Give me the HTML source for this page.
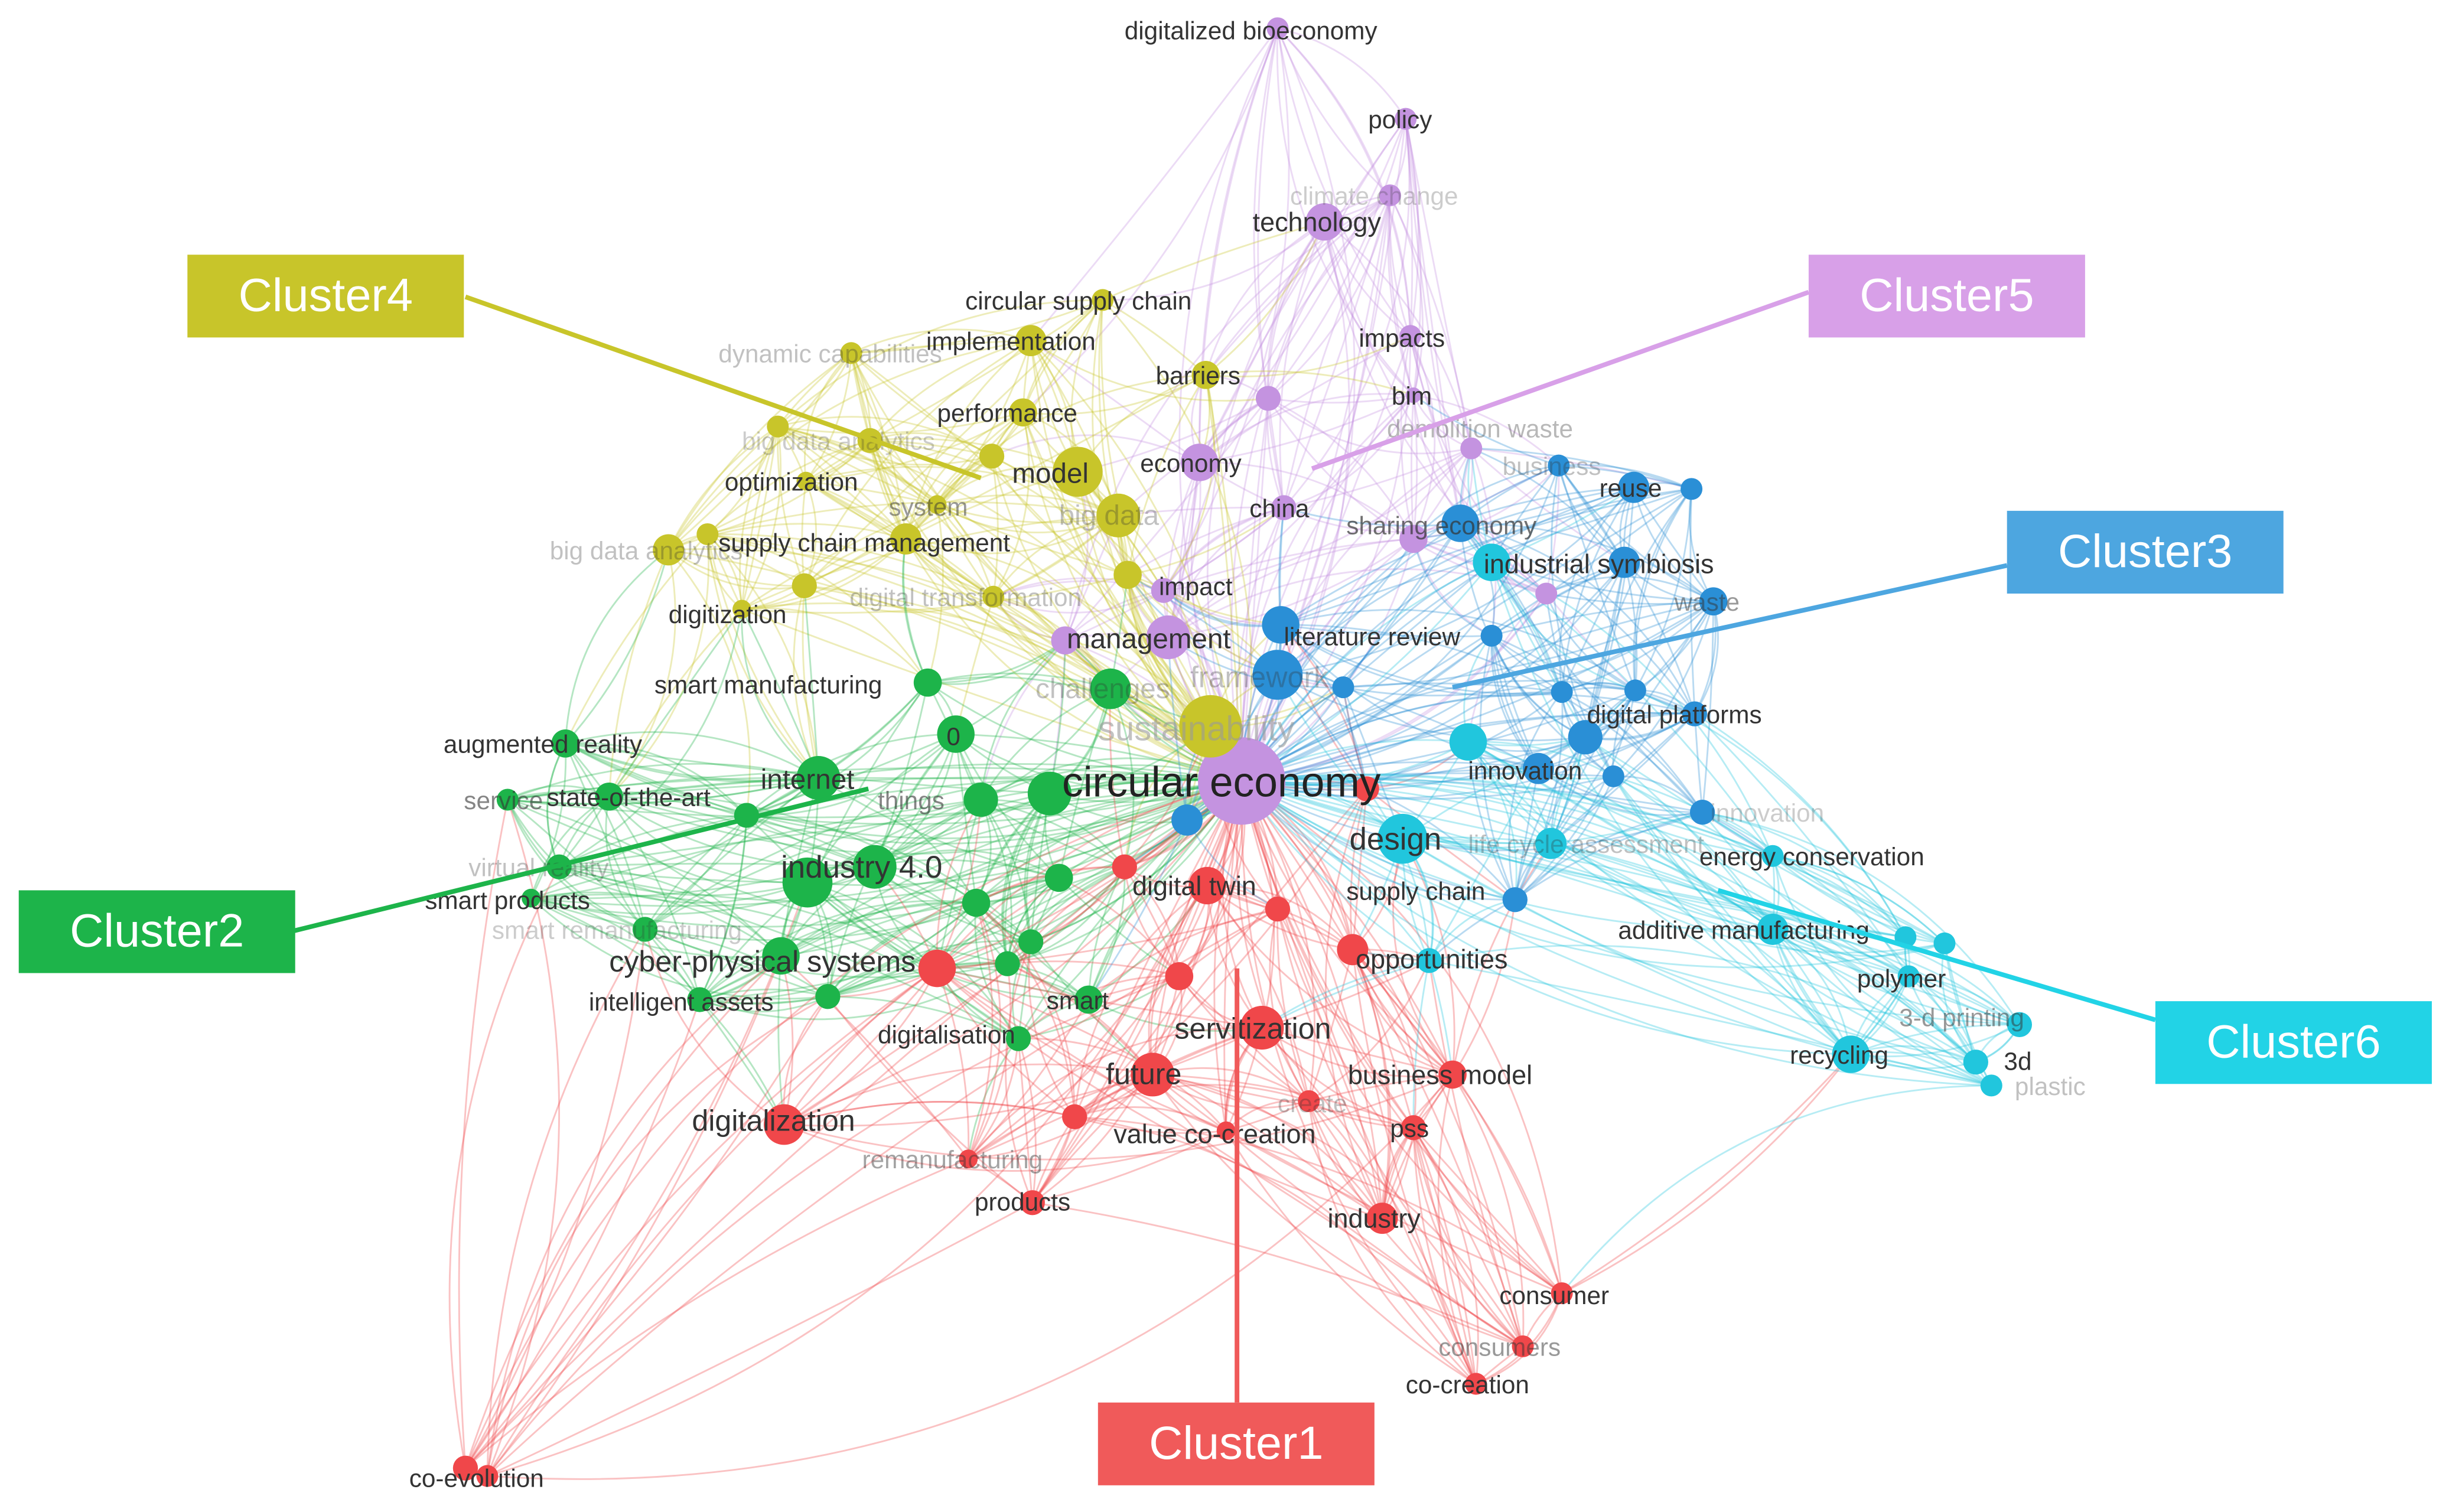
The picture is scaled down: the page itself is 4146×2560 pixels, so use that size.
<!DOCTYPE html>
<html><head><meta charset="utf-8"><style>
html,body{margin:0;padding:0;background:#fff;}
svg{display:block;}
text{font-family:"Liberation Sans",sans-serif;}
</style></head><body>
<svg id="s" width="4146" height="2560" viewBox="0 0 1568 968" xmlns="http://www.w3.org/2000/svg">
<rect width="1568" height="968" fill="#fff"/>
<g id="edges" fill="none"></g>
<g id="nodes"></g>
<g id="labels" font-size="16" fill="#333"></g>
<g id="clusters"></g>
</svg>
<script>
var C={r:"#f0474a",g:"#1db44a",b:"#2a8fd6",y:"#c8c52a",p:"#c493e0",c:"#21c6dd"};
var N=[
["p",818,18,7,"digitalized bioeconomy",720,25,16,1],["p",900,76,7,"policy",876,82,16,1],["p",890,125,7,"climate change",826,131,16,0.25],
["p",848,142,12,"technology",802,148,17,1],["p",903,215,7,"impacts",870,222,16,1],["p",905,253,5,"bim",891,259,16,1],["p",812,255,8,"",0,0,0,1],
["p",942,287,7,"demolition waste",888,280,16,0.35],["p",768,296,12,"economy",730,302,16,1],["p",822,325,8,"china",800,331,16,1],
["p",905,345,9,"sharing economy",862,342,16,0.7],["p",748,408,14,"management",683,415,18,1],["p",745,378,8,"impact",742,381,16,1],
["p",990,380,7,"",0,0,0,1],["p",682,410,9,"",0,0,0,1],
["y",706,192,7,"circular supply chain",618,198,16,1],["y",660,218,10,"implementation",593,224,16,1],["y",545,226,7,"dynamic capabilities",460,232,16,0.3],
["y",772,240,9,"barriers",740,246,16,1],["y",655,264,9,"performance",600,270,16,1],["y",690,302,16,"model",648,309,18,1],
["y",557,282,8,"big data analytics",475,288,16,0.25],["y",498,273,7,"",0,0,0,1],["y",516,308,6,"optimization",464,314,16,1],
["y",600,323,6,"system",569,330,16,0.5],["y",716,330,14,"big data",678,336,18,0.3],["y",580,345,10,"supply chain management",460,353,16,1],
["y",428,352,10,"big data analytics",352,358,16,0.3],["y",515,375,8,"",0,0,0,1],["y",475,390,6,"digitization",428,399,16,1],
["y",636,382,7,"digital transformation",544,388,16,0.3],["y",775,465,20,"",0,0,0,1],["y",635,292,8,"",0,0,0,1],["y",453,342,7,"",0,0,0,1],["y",722,368,9,"",0,0,0,1],
["g",594,437,9,"smart manufacturing",419,444,16,1],["g",612,470,12,"0",606,477,16,1],["g",711,441,13,"challenges",663,447,18,0.3],
["g",362,476,9,"augmented reality",284,482,16,1],["g",524,498,14,"internet",487,505,18,1],["g",390,510,9,"state-of-the-art",350,516,16,1],
["g",325,512,7,"service",297,518,16,0.6],["g",628,512,11,"things",562,518,16,0.6],["g",672,508,14,"",0,0,0,1],["g",517,565,16,"industry 4.0",500,562,20,1],
["g",560,555,14,"",0,0,0,1],["g",358,555,8,"virtual reality",300,561,16,0.3],["g",340,575,6,"smart products",272,582,16,1],
["g",413,595,8,"smart remanufacturing",315,601,16,0.25],["g",500,612,12,"cyber-physical systems",390,622,19,1],["g",448,640,8,"intelligent assets",377,647,16,1],
["g",530,638,8,"",0,0,0,1],["g",697,640,9,"smart",670,646,16,1],["g",625,578,9,"",0,0,0,1],["g",660,603,8,"",0,0,0,1],["g",678,562,9,"",0,0,0,1],
["g",652,665,8,"digitalisation",562,668,16,1],["g",478,522,8,"",0,0,0,1],["g",645,617,8,"",0,0,0,1],
["r",773,567,12,"digital twin",725,573,17,1],["r",720,555,8,"",0,0,0,1],["r",818,582,8,"",0,0,0,1],["r",866,608,10,"opportunities",868,620,17,1],
["r",808,658,14,"servitization",752,665,19,1],["r",738,688,14,"future",708,694,19,1],["r",930,688,9,"business model",863,694,17,1],
["r",838,705,7,"create",818,712,16,0.3],["r",905,722,8,"pss",890,728,16,1],["r",785,724,6,"value co-creation",713,732,17,1],["r",688,715,8,"",0,0,0,1],
["r",502,720,13,"digitalization",443,724,19,1],["r",620,742,6,"remanufacturing",552,748,16,0.45],["r",661,770,8,"products",624,775,16,1],
["r",885,780,10,"industry",850,786,17,1],["r",1000,828,7,"consumer",960,835,16,1],["r",975,862,7,"consumers",921,868,16,0.5],
["r",945,886,7,"co-creation",900,892,16,1],["r",298,940,8,"co-evolution",262,952,16,1],["r",312,945,7,"",0,0,0,1],["r",600,620,12,"",0,0,0,1],
["r",755,625,9,"",0,0,0,1],["r",875,505,8,"",0,0,0,1],
["b",1046,312,10,"reuse",1024,318,16,1],["b",1083,313,7,"",0,0,0,1],["b",998,298,7,"business",962,304,16,0.3],["b",1040,360,10,"",0,0,0,1],
["b",1097,385,9,"waste",1072,391,16,0.5],["b",820,400,12,"literature review",822,413,16,1],["b",818,432,16,"framework",762,440,19,0.3],
["b",860,440,7,"",0,0,0,1],["b",955,407,7,"",0,0,0,1],["b",1085,457,8,"digital platforms",1016,463,16,1],["b",1047,442,7,"",0,0,0,1],
["b",1000,443,7,"",0,0,0,1],["b",1015,472,11,"innovation",940,499,16,1],["b",985,492,10,"",0,0,0,1],["b",1033,497,7,"",0,0,0,1],
["b",760,525,10,"",0,0,0,1],["b",1090,520,8,"innovation",1095,526,16,0.25],["b",970,576,8,"supply chain",862,576,16,1],["b",935,335,12,"",0,0,0,1],
["c",955,360,12,"industrial symbiosis",950,367,17,1],["c",940,475,12,"",0,0,0,1],["c",898,537,16,"design",864,544,20,1],
["c",993,540,10,"life cycle assessment",940,546,16,0.3],["c",1135,548,7,"energy conservation",1088,554,16,1],["c",1135,595,10,"additive manufacturing",1036,601,16,1],
["c",1220,600,7,"",0,0,0,1],["c",1245,604,7,"",0,0,0,1],["c",1222,625,7,"polymer",1189,632,16,1],["c",1293,656,8,"3-d printing",1216,657,16,0.5],
["c",1185,675,12,"recycling",1146,681,16,1],["c",1265,680,8,"3d",1283,685,16,1],["c",1275,695,7,"plastic",1290,701,16,0.3],["c",915,615,8,"",0,0,0,1]
];
var ns="http://www.w3.org/2000/svg";
function el(t,a,p){var e=document.createElementNS(ns,t);for(var k in a)e.setAttribute(k,a[k]);p.appendChild(e);return e;}
var seed=7;function rnd(){seed=(seed*16807)%2147483647;return (seed-1)/2147483646;}
var E=document.getElementById("edges");
var hub=[0,795,500];
for(var i=0;i<N.length;i++){
  var a=N[i];
  var near=N.slice().sort(function(p,q){return Math.hypot(p[1]-a[1],p[2]-a[2])-Math.hypot(q[1]-a[1],q[2]-a[2]);}).slice(1,14);
  for(var k=0;k<11;k++){
    var b;
    if(k<2)b=hub;
    else if(rnd()<0.75)b=near[Math.floor(rnd()*near.length)];
    else{var same=N.filter(function(n){return n[0]==a[0];});b=same[Math.floor(rnd()*same.length)];}
    var dx=b[1]-a[1],dy=b[2]-a[2];var s=(rnd()-0.5)*0.5;
    var mx=(a[1]+b[1])/2-dy*s,my=(a[2]+b[2])/2+dx*s;
    el("path",{d:"M"+a[1]+","+a[2]+" Q"+mx+","+my+" "+b[1]+","+b[2],stroke:C[a[0]],"stroke-width":1.1,"stroke-opacity":0.33},E);
  }
}
var ND=document.getElementById("nodes"),L=document.getElementById("labels");
el("circle",{cx:795,cy:500,r:28,fill:"#c493e0"},ND);
N.forEach(function(n){el("circle",{cx:n[1],cy:n[2],r:n[3],fill:C[n[0]]},ND);});
el("text",{x:680,y:510,"font-size":27,fill:"#222"},L).textContent="circular economy";
el("text",{x:703,y:474,"font-size":22,fill:"#999","fill-opacity":0.6},L).textContent="sustainability";
N.forEach(function(n){if(n[4]){var t=el("text",{x:n[5],y:n[6],"font-size":n[7],fill:"#333","fill-opacity":n[8]},L);t.textContent=n[4];}});
var CL=[["Cluster4",120,163,"#c8c52a",298,190,628,306],["Cluster5",1158,163,"#d8a0e8",1158,187,840,300],
["Cluster3",1285,327,"#4da6e0",1285,362,930,440],["Cluster2",12,570,"#1db44a",188,596,556,505],
["Cluster6",1380,641,"#22d3e6",1380,653,1100,570],["Cluster1",703,898,"#f05a5a",792,898,792,620]];
var G=document.getElementById("clusters");
CL.forEach(function(c){
  el("line",{x1:c[4],y1:c[5],x2:c[6],y2:c[7],stroke:c[3],"stroke-width":3},G);
  el("rect",{x:c[1],y:c[2],width:177,height:53,fill:c[3]},G);
  var t=el("text",{x:c[1]+88.5,y:c[2]+36,"font-size":30,fill:"#fff","text-anchor":"middle"},G);t.textContent=c[0];
});
</script>
</body></html>
